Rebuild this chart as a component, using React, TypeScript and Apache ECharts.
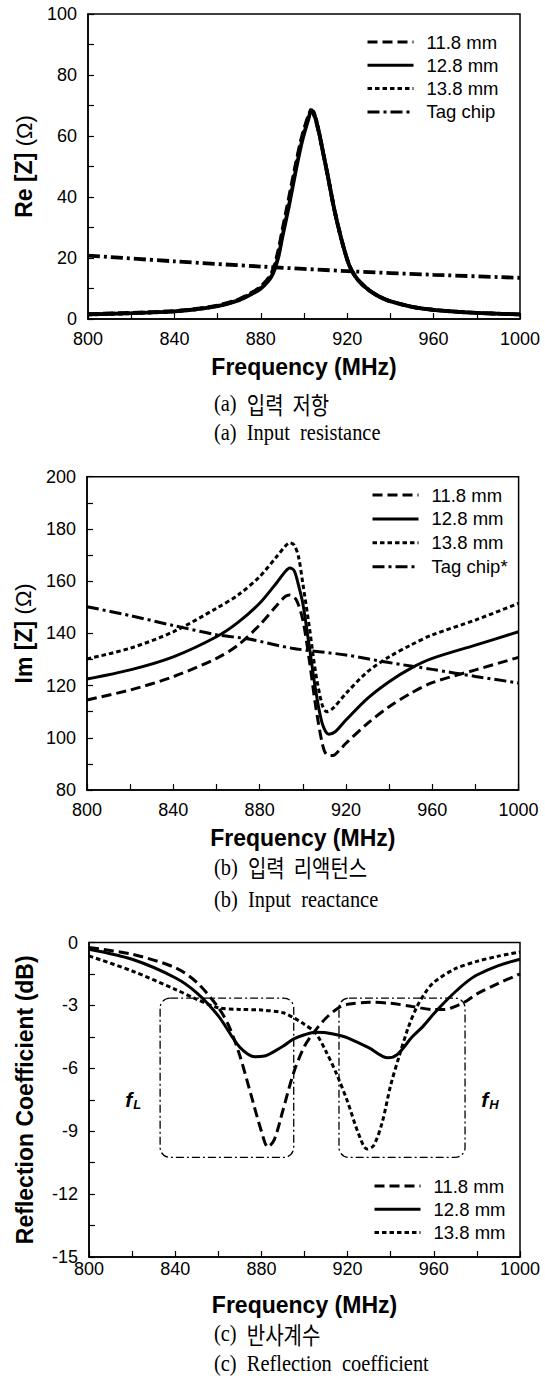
import React, { useEffect, useRef } from "react";
import * as echarts from "echarts";

const FONT = "'Liberation Sans', Arial, sans-serif";
const SERIF = "'Liberation Serif', 'Times New Roman', serif";
const KR = "'Noto Sans CJK KR', sans-serif";

// ---------- (a) Input resistance: Re[Z] (Ohm) ----------
const reNames = ["11.8 mm", "12.8 mm", "13.8 mm", "Tag chip"];
const re118 = [
  [800, 1.6], [820, 2.0], [840, 2.6], [850, 3.3], [860, 4.4], [870, 6.5], [875, 8.3], [880, 10.6],
  [885, 15], [888, 22], [890, 29], [893, 39.5], [896, 50], [899, 59.5], [902, 66.5], [903.5, 68.2],
  [905, 66.2], [907, 60.8], [909, 54], [911, 47], [914, 36], [917, 27], [920, 19.5], [922, 16],
  [925, 12.8], [930, 9.5], [935, 7.3], [940, 5.8], [950, 4.0], [960, 3.0], [970, 2.4], [980, 2.0], [1000, 1.5],
];
const re128 = [
  [800, 1.5], [820, 1.9], [840, 2.5], [850, 3.2], [860, 4.2], [870, 6.2], [875, 7.9], [880, 10.0],
  [885, 14.0], [888, 20], [890, 27], [893, 37], [896, 48], [899, 58], [902, 65.5], [903.5, 68.5],
  [905, 66.5], [907, 61], [909, 54], [911, 47], [914, 36], [917, 27], [920, 19.5], [922, 16],
  [925, 12.8], [930, 9.5], [935, 7.3], [940, 5.8], [950, 4.0], [960, 3.0], [970, 2.4], [980, 2.0], [1000, 1.5],
];
const re138 = [
  [800, 1.5], [820, 1.9], [840, 2.5], [850, 3.2], [860, 4.3], [870, 6.3], [875, 8.1], [880, 10.3],
  [885, 14.5], [888, 21], [890, 28], [893, 38], [896, 49], [899, 59], [902, 66], [903.5, 68.8],
  [905, 66.8], [907, 61], [909, 54], [911, 47], [914, 36], [917, 27], [920, 19.5], [922, 16],
  [925, 12.8], [930, 9.5], [935, 7.3], [940, 5.8], [950, 4.0], [960, 3.0], [970, 2.4], [980, 2.0], [1000, 1.5],
];
const reTag = [[800, 20.8], [840, 18.9], [880, 17.2], [920, 15.7], [960, 14.5], [1000, 13.5]];

// ---------- (b) Input reactance: Im[Z] (Ohm) ----------
const imNames = ["11.8 mm", "12.8 mm", "13.8 mm", "Tag chip*"];
const im118 = [
  [800, 114.5], [820, 118.3], [840, 123.4], [860, 130.4], [870, 135.5], [880, 143.2], [888, 150.8],
  [892, 154.2], [894, 154.7], [897, 152.8], [900, 145.1], [903, 129.8], [906, 111.9], [909, 97.9],
  [911, 93.6], [914, 93.2], [917, 95.3], [920, 97.9], [930, 105.5], [940, 111.9], [950, 117],
  [960, 121.1], [980, 126], [1000, 130.8],
];
const im128 = [
  [800, 122.5], [820, 126], [840, 131], [860, 138.7], [870, 144.2], [880, 151.5], [888, 159.5],
  [892, 163.8], [894, 165], [896, 164], [898, 158.5], [900, 151.5], [903, 135], [906, 118],
  [909, 105.5], [912, 101.4], [915, 102.3], [920, 106.8], [930, 115.1], [940, 121.5], [950, 126.6],
  [960, 130.4], [980, 135.5], [1000, 140.6],
];
const im138 = [
  [800, 130.2], [820, 134.3], [840, 140.6], [860, 149.6], [870, 154.7], [880, 161.7], [888, 169.5],
  [892, 173.5], [894, 174.7], [896, 173.8], [898, 169.4], [900, 159.2], [903, 142.6], [906, 124.7],
  [909, 112.6], [911, 110], [914, 111.3], [920, 117], [930, 125.3], [940, 131], [950, 135.5],
  [960, 139.4], [980, 145.1], [1000, 151.5],
];
const imTag = [
  [800, 150.2], [820, 146.8], [840, 143], [860, 139.5], [875, 137.8], [895, 134.3], [920, 131.7],
  [940, 128.8], [960, 126.2], [980, 123.5], [1000, 121],
];

// ---------- (c) Reflection coefficient (dB) ----------
const rcNames = ["11.8 mm", "12.8 mm", "13.8 mm"];
const rc118 = [
  [800, -0.24], [820, -0.56], [840, -1.2], [850, -1.9], [860, -3.1], [865, -4.0], [870, -5.4],
  [875, -7.2], [880, -9.0], [883, -9.75], [886, -9.4], [890, -8.0], [895, -6.2], [900, -4.95],
  [905, -4.2], [910, -3.6], [916, -3.1], [920, -2.95], [930, -2.85], [940, -2.9], [950, -3.05],
  [960, -3.2], [965, -3.2], [970, -3.05], [975, -2.8], [980, -2.45], [990, -1.95], [1000, -1.5],
];
const rc128 = [
  [800, -0.32], [820, -0.8], [840, -1.68], [850, -2.4], [860, -3.5], [870, -5.0], [877, -5.45],
  [882, -5.4], [885, -5.25], [890, -4.95], [895, -4.6], [900, -4.4], [905, -4.28], [910, -4.3],
  [916, -4.42], [920, -4.55], [930, -5.03], [938.7, -5.5], [943, -5.35], [950, -4.5], [955, -4.0],
  [960, -3.4], [965, -2.85], [970, -2.35], [975, -1.9], [980, -1.55], [990, -1.1], [1000, -0.8],
];
const rc138 = [
  [800, -0.64], [820, -1.36], [840, -2.23], [850, -2.71], [860, -3.11], [870, -3.19], [880, -3.22],
  [890, -3.35], [895, -3.59], [900, -3.91], [905, -4.3], [910, -5.2], [915, -6.3], [920, -7.6],
  [925, -9.1], [929, -9.85], [932, -9.7], [936, -8.6], [940, -6.8], [944, -5.4], [948, -4.1],
  [952, -3.1], [956, -2.4], [960, -1.9], [970, -1.25], [980, -0.9], [990, -0.65], [1000, -0.45],
];
// band boxes: [fStart, dBTop, fEnd, dBBottom]
const bandBoxes = [[833, -2.65, 895, -10.25], [916, -2.65, 974.5, -10.25]];
const bandLabelPos = [[820.5, -7.5], [986, -7.5]];
const bandLabelSub = ["L", "H"];

const DASH_LONG = [10, 5];
const DASH_SHORT = [4.5, 3];
const DASH_DOT = [12, 4, 3, 4];

const tickStyle = { show: true, inside: true, length: 6, lineStyle: { color: "#000", width: 1.2 } };
const minorStyle = { show: true, splitNumber: 2, length: 6, lineStyle: { color: "#000", width: 1.2 } };
const axisLineStyle = { show: true, onZero: false, lineStyle: { color: "#000", width: 1.5 } };

function xAxisCfg(labelMargin: number) {
  return {
    type: "value",
    min: 800,
    max: 1000,
    interval: 40,
    axisLine: axisLineStyle,
    axisTick: tickStyle,
    minorTick: minorStyle,
    splitLine: { show: false },
    axisLabel: {
      color: "#000",
      fontSize: 18,
      fontFamily: FONT,
      margin: labelMargin,
      formatter: (v: number) => String(v),
    },
    name: "Frequency (MHz)",
    nameLocation: "middle",
    nameGap: 48,
    nameTextStyle: { fontSize: 23, fontWeight: "bold", fontFamily: FONT, color: "#000", verticalAlign: "middle" },
  };
}

function yAxisCfg(min: number, max: number, interval: number, name: string, gap: number) {
  return {
    type: "value",
    min,
    max,
    interval,
    axisLine: axisLineStyle,
    axisTick: tickStyle,
    minorTick: minorStyle,
    splitLine: { show: false },
    axisLabel: { color: "#000", fontSize: 18, fontFamily: FONT, margin: 11, formatter: (v: number) => String(v) },
    name,
    nameLocation: "middle",
    nameRotate: 90,
    nameGap: gap,
    nameTextStyle: {
      fontSize: 23,
      fontWeight: "bold",
      fontFamily: FONT,
      color: "#000",
      verticalAlign: "middle",
      rich: {
        b: { fontSize: 23, fontWeight: "bold", fontFamily: FONT, color: "#000" },
        n: { fontSize: 22, fontWeight: "normal", fontFamily: FONT, color: "#000" },
      },
    },
  };
}

function lineSeries(name: string, data: number[][], dash: any, width: number) {
  return {
    type: "line",
    name,
    data,
    symbol: "none",
    smooth: 0.3,
    lineStyle: { color: "#000", width, type: dash },
    itemStyle: { color: "#000" },
  };
}

function legendCfg(names: string[], left: number, top: number, gap: number) {
  return {
    data: names,
    orient: "vertical",
    left,
    top,
    padding: 0,
    itemWidth: 46,
    itemHeight: 14,
    itemGap: gap,
    selectedMode: false,
    itemStyle: { color: "rgba(0,0,0,0)", borderColor: "rgba(0,0,0,0)", borderWidth: 0, opacity: 0 },
    lineStyle: { width: 3, color: "#000" },
    textStyle: { fontSize: 18.5, lineHeight: 19, fontFamily: FONT, color: "#000", padding: [0, 0, 0, 8] },
  };
}

function captions(y1: number, y2: number, letter: string, kr: string, en: string) {
  const base = { fontFamily: SERIF, fontSize: 24, fill: "#000" };
  return [
    {
      type: "text",
      x: 214,
      y: y1,
      scaleX: 0.85,
      silent: true,
      style: {
        text: `{s|(${letter})}  {k|${kr}}`,
        ...base,
        verticalAlign: "middle",
        rich: {
          s: { fontFamily: SERIF, fontSize: 24, fill: "#000" },
          k: { fontFamily: KR, fontSize: 23.5, fill: "#000" },
        },
      },
    },
    {
      type: "text",
      x: 214,
      y: y2,
      scaleX: 0.85,
      silent: true,
      style: { text: `(${letter})  ${en}`, ...base, verticalAlign: "middle" },
    },
  ];
}

const optA = {
  animation: false,
  backgroundColor: "#fff",
  grid: { left: 88, top: 14, width: 432, height: 305, show: true, borderColor: "#000", borderWidth: 1.5 },
  xAxis: xAxisCfg(11),
  yAxis: yAxisCfg(0, 100, 20, "{b|Re [Z]} {n|(Ω)}", 63.7),
  legend: legendCfg(reNames, 366, 32.5, 4.3),
  series: [
    lineSeries(reNames[0], re118, DASH_LONG, 3.8),
    lineSeries(reNames[1], re128, "solid", 3.8),
    lineSeries(reNames[2], re138, DASH_SHORT, 3.8),
    lineSeries(reNames[3], reTag, DASH_DOT, 3.8),
  ],
  graphic: captions(403.3, 432, "a", "입력  저항", "Input  resistance"),
};

const optB = {
  animation: false,
  backgroundColor: "#fff",
  grid: { left: 87, top: 18.7, width: 431.6, height: 313.3, show: true, borderColor: "#000", borderWidth: 1.5 },
  xAxis: xAxisCfg(11),
  yAxis: yAxisCfg(80, 200, 20, "{b|Im [Z]} {n|(Ω)}", 62.6),
  legend: legendCfg(imNames, 371, 27.5, 4.9),
  series: [
    lineSeries(imNames[0], im118, DASH_LONG, 3),
    lineSeries(imNames[1], im128, "solid", 3),
    lineSeries(imNames[2], im138, DASH_SHORT, 3),
    lineSeries(imNames[3], imTag, DASH_DOT, 3),
  ],
  graphic: captions(408.7, 441.3, "b", "입력  리액턴스", "Input  reactance"),
};

const optC = {
  animation: false,
  backgroundColor: "#fff",
  grid: { left: 89, top: 26.5, width: 431, height: 314.5, show: true, borderColor: "#000", borderWidth: 1.5 },
  xAxis: xAxisCfg(3),
  yAxis: yAxisCfg(-15, 0, 3, "Reflection Coefficient (dB)", 64),
  legend: legendCfg(rcNames, 373, 260.5, 4.3),
  series: [
    lineSeries(rcNames[0], rc118, DASH_LONG, 3),
    lineSeries(rcNames[1], rc128, "solid", 3),
    lineSeries(rcNames[2], rc138, DASH_SHORT, 3),
    {
      type: "custom",
      name: "bands",
      silent: true,
      clip: false,
      data: bandBoxes,
      renderItem: (params: any, api: any) => {
        const p1 = api.coord([api.value(0), api.value(1)]);
        const p2 = api.coord([api.value(2), api.value(3)]);
        return {
          type: "rect",
          shape: { x: p1[0], y: p1[1], width: p2[0] - p1[0], height: p2[1] - p1[1], r: 10 },
          style: { fill: "none", stroke: "#000", lineWidth: 1.3, lineDash: [8, 3, 2, 3] },
        };
      },
    },
    {
      type: "custom",
      name: "bandLabels",
      silent: true,
      clip: false,
      data: bandLabelPos,
      renderItem: (params: any, api: any) => {
        const p = api.coord([api.value(0), api.value(1)]);
        const sub = bandLabelSub[params.dataIndex];
        return {
          type: "text",
          x: p[0],
          y: p[1],
          style: {
            text: `{f|f}{s|${sub}}`,
            align: "center",
            verticalAlign: "middle",
            fill: "#000",
            rich: {
              f: { fontSize: 21, fontStyle: "italic", fontWeight: "bold", fontFamily: FONT, fill: "#000" },
              s: {
                fontSize: 13,
                fontStyle: "italic",
                fontWeight: "bold",
                fontFamily: FONT,
                fill: "#000",
                verticalAlign: "bottom",
                padding: [9, 0, 0, 1],
              },
            },
          },
        };
      },
    },
  ],
  graphic: captions(417.3, 447.3, "c", "반사계수", "Reflection  coefficient"),
};

export default function App() {
  const r1 = useRef<HTMLDivElement>(null);
  const r2 = useRef<HTMLDivElement>(null);
  const r3 = useRef<HTMLDivElement>(null);

  useEffect(() => {
    const pairs: [any, any][] = [
      [r1, optA],
      [r2, optB],
      [r3, optC],
    ];
    const charts = pairs.map(([r, o]) => {
      const c = echarts.init(r.current, null, { renderer: "svg" });
      c.setOption(o);
      return c;
    });
    return () => charts.forEach((c) => c.dispose());
  }, []);

  return (
    <div style={{ position: "absolute", left: 0, top: 0, width: 545, height: 1378, background: "#fff" }}>
      <div ref={r1} style={{ width: 545, height: 458 }} />
      <div ref={r2} style={{ width: 545, height: 458 }} />
      <div ref={r3} style={{ width: 545, height: 462 }} />
    </div>
  );
}
